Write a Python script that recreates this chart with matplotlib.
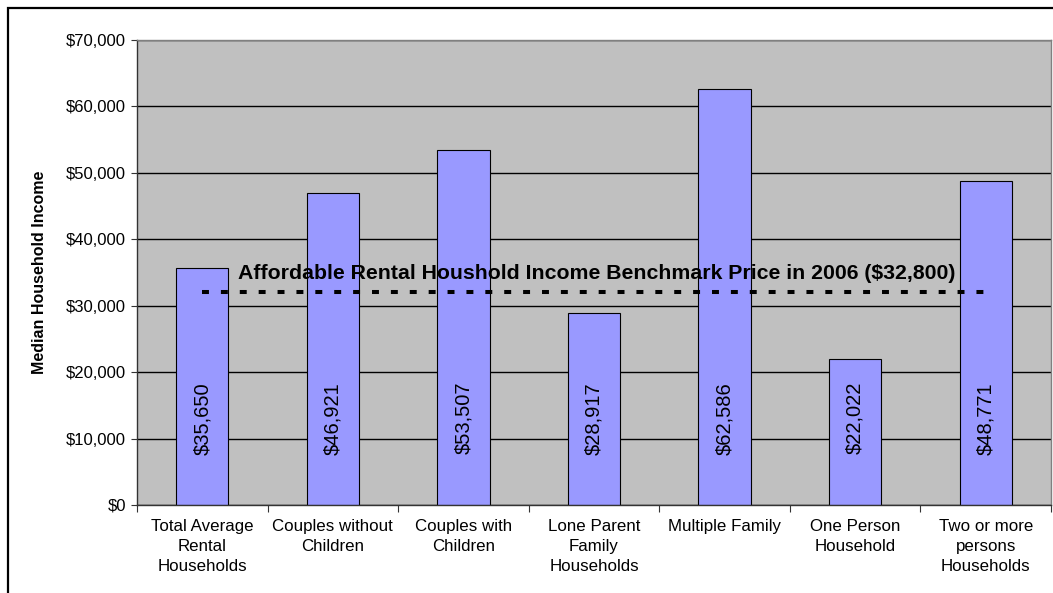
import matplotlib
matplotlib.use("Agg")
import matplotlib.pyplot as plt
from matplotlib.patches import Rectangle
from matplotlib.ticker import FuncFormatter, MultipleLocator, FixedLocator

plt.rcParams['font.family'] = ['Liberation Sans', 'DejaVu Sans']
plt.rcParams['lines.scale_dashes'] = False

categories = ["Total Average\nRental\nHouseholds", "Couples without\nChildren",
              "Couples with\nChildren", "Lone Parent\nFamily\nHouseholds",
              "Multiple Family", "One Person\nHousehold", "Two or more\npersons\nHouseholds"]
values = [35650, 46921, 53507, 28917, 62586, 22022, 48771]
benchmark_level = 32100
benchmark_label = "Affordable Rental Houshold Income Benchmark Price in 2006 ($32,800)"
y_label = "Median Household Income"

fig = plt.figure(figsize=(10.53, 5.93), dpi=100)
ax = fig.add_axes([137/1053, 88/593, 914/1053, 465/593])
ax.set_facecolor('#C0C0C0')

x = list(range(len(categories)))
ax.set_axisbelow(True)
ax.yaxis.grid(True, color='black', linewidth=1.0)
ax.bar(x, values, width=0.4, color='#9999FF', edgecolor='black', linewidth=0.8, zorder=2)

for i, v in enumerate(values):
    ax.annotate(f"${v:,}", xy=(i, 0), xytext=(0, 62.5), textcoords='offset points',
                rotation=90, ha='center', va='center', fontsize=14.5, zorder=3)

ax.plot([x[0], x[-1]], [benchmark_level, benchmark_level], color='black',
        linewidth=2.9, dashes=(5, 8.6), zorder=4)
ax.annotate(benchmark_label, xy=(x[0], benchmark_level), xytext=(26, 13.5),
            textcoords='offset points', ha='left', va='center',
            fontsize=15.3, fontweight='bold', zorder=5)

ax.set_xlim(-0.5, len(categories) - 0.5)
ax.set_ylim(0, 70000)
ax.yaxis.set_major_locator(MultipleLocator(10000))
ax.yaxis.set_major_formatter(FuncFormatter(lambda v, p: f"${v:,.0f}"))
ax.tick_params(axis='y', labelsize=12, length=4, width=0.8, pad=4, color='#333333')

ax.set_xticks(x)
ax.set_xticklabels(categories, fontsize=12.2, linespacing=1.42)
ax.tick_params(axis='x', which='major', length=0, pad=10)
ax.xaxis.set_minor_locator(FixedLocator([i - 0.5 for i in range(len(categories) + 1)]))
ax.tick_params(axis='x', which='minor', length=5, width=0.8, color='#333333')

ax.set_ylabel(y_label, fontsize=11.5, fontweight='bold')
ax.yaxis.set_label_coords(-0.099, 0.5)

for s in ['left', 'bottom']:
    ax.spines[s].set_color('#333333')
    ax.spines[s].set_linewidth(1.0)
for s in ['top', 'right']:
    ax.spines[s].set_color('#808080')
    ax.spines[s].set_linewidth(1.0)

fig.patches.append(Rectangle((7.5/1053, -0.1), 1.2, (593 - 8)/593 + 0.1,
                             transform=fig.transFigure, fill=False,
                             edgecolor='black', linewidth=1.6, clip_on=False))

fig.savefig("out.png", dpi=100)
